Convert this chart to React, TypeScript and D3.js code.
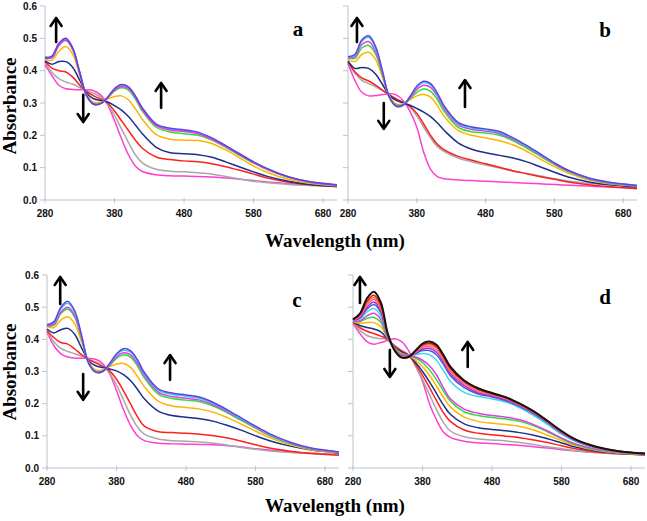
import React from 'react';
import * as d3 from 'd3';

const WAVELENGTHS = [280, 290, 300, 310, 320, 330, 340, 350, 360, 370, 380, 390, 400, 410, 420, 440, 460, 480, 500, 520, 540, 560, 580, 600, 630, 660, 700];
const X_TICKS = [280, 380, 480, 580, 680];
const Y_TICKS = [0, 0.1, 0.2, 0.3, 0.4, 0.5, 0.6];

// Panel a
const A_MAGENTA = [.418, .385, .355, .344, .342, .341, .341, .338, .325, .295, .245, .190, .140, .105, .088, .078, .075, .074, .073, .071, .068, .064, .060, .056, .051, .047, .044];
const A_GRAY = [.425, .395, .375, .365, .358, .348, .338, .330, .318, .297, .262, .220, .178, .140, .115, .095, .089, .087, .084, .080, .073, .065, .058, .053, .048, .045, .042];
const A_RED = [.428, .408, .400, .396, .380, .355, .335, .322, .312, .300, .275, .245, .215, .185, .160, .133, .125, .121, .118, .112, .103, .092, .080, .068, .056, .048, .042];
const A_NAVY = [.430, .420, .428, .428, .410, .370, .330, .313, .308, .303, .292, .278, .258, .232, .205, .163, .146, .143, .140, .132, .118, .102, .087, .073, .058, .048, .042];
const A_ORANGE = [.435, .432, .460, .475, .450, .385, .325, .302, .302, .312, .320, .322, .310, .282, .250, .202, .188, .185, .184, .175, .155, .130, .105, .085, .064, .052, .044];
const A_GREEN = [.443, .440, .478, .493, .464, .392, .322, .298, .299, .315, .337, .347, .340, .312, .275, .225, .210, .205, .200, .185, .163, .138, .114, .093, .070, .055, .046];
const A_CYAN = [.440, .443, .482, .498, .468, .394, .322, .296, .298, .317, .343, .355, .348, .320, .283, .233, .220, .215, .208, .190, .167, .142, .117, .096, .071, .056, .046];
const A_PINK = [.438, .440, .478, .495, .466, .393, .322, .297, .298, .316, .340, .351, .345, .318, .280, .230, .216, .212, .205, .188, .165, .140, .116, .095, .071, .056, .046];
const A_VIOLET = [.440, .445, .485, .500, .470, .395, .322, .296, .298, .318, .345, .357, .350, .322, .285, .235, .222, .217, .210, .192, .168, .143, .118, .097, .072, .057, .047];

// Panel b
const B_MAGENTA = [.423, .370, .333, .322, .323, .326, .329, .325, .308, .275, .225, .148, .095, .072, .066, .062, .060, .058, .056, .054, .052, .050, .048, .046, .043, .040, .037];
const B_GRAY = [.425, .392, .370, .360, .350, .338, .325, .313, .302, .287, .260, .225, .192, .165, .150, .130, .118, .108, .099, .090, .082, .074, .066, .059, .052, .047, .043];
const B_RED = [.427, .397, .378, .368, .355, .340, .325, .313, .302, .290, .268, .235, .200, .172, .155, .135, .123, .112, .101, .090, .081, .072, .064, .056, .047, .041, .035];
const B_NAVY = [.430, .407, .410, .407, .390, .358, .324, .308, .301, .293, .283, .272, .258, .238, .215, .177, .157, .146, .138, .130, .118, .102, .086, .071, .056, .047, .040];
const B_ORANGE = [.435, .428, .450, .457, .435, .380, .322, .297, .298, .310, .322, .326, .318, .292, .258, .215, .200, .192, .183, .170, .150, .126, .103, .083, .062, .050, .043];
const B_GREEN = [.440, .438, .470, .478, .452, .388, .320, .294, .295, .313, .333, .343, .336, .310, .273, .225, .211, .207, .200, .183, .160, .135, .110, .088, .065, .052, .044];
const B_PINK = [.440, .443, .480, .490, .460, .392, .319, .292, .294, .315, .342, .355, .348, .320, .281, .232, .218, .213, .205, .187, .164, .138, .112, .090, .066, .053, .044];
const B_CYAN = [.442, .447, .490, .503, .471, .397, .318, .290, .293, .318, .349, .363, .356, .327, .287, .237, .223, .217, .209, .190, .166, .140, .114, .091, .067, .054, .045];
const B_VIOLET = [.443, .450, .495, .508, .475, .400, .318, .290, .293, .320, .352, .367, .360, .330, .290, .240, .226, .220, .212, .192, .168, .142, .115, .092, .068, .055, .045];

// Panel c
const C_MAGENTA = [.422, .380, .355, .345, .342, .341, .341, .338, .325, .293, .240, .182, .133, .100, .085, .077, .075, .074, .073, .072, .069, .065, .060, .056, .050, .046, .043];
const C_GRAY = [.425, .392, .372, .362, .355, .347, .339, .330, .318, .295, .258, .212, .165, .128, .105, .090, .085, .083, .081, .077, .071, .064, .058, .053, .048, .045, .042];
const C_RED = [.427, .405, .390, .385, .370, .352, .337, .327, .316, .302, .276, .240, .200, .160, .130, .113, .110, .108, .105, .100, .093, .083, .072, .062, .052, .045, .040];
const C_NAVY = [.432, .420, .430, .434, .415, .372, .333, .318, .312, .308, .302, .290, .272, .245, .215, .177, .163, .158, .153, .145, .132, .117, .100, .085, .068, .056, .047];
const C_ORANGE = [.440, .437, .460, .470, .448, .390, .330, .305, .305, .315, .323, .325, .313, .285, .253, .208, .193, .188, .183, .173, .156, .136, .115, .095, .072, .057, .048];
const C_GREEN = [.442, .444, .480, .494, .468, .400, .327, .300, .302, .318, .341, .352, .345, .318, .280, .230, .216, .211, .206, .192, .171, .147, .124, .101, .076, .059, .049];
const C_PINK = [.442, .447, .485, .500, .473, .402, .326, .299, .301, .320, .346, .358, .352, .325, .287, .236, .222, .217, .211, .196, .174, .150, .126, .103, .077, .060, .049];
const C_CYAN = [.445, .452, .495, .512, .483, .407, .325, .298, .300, .323, .352, .366, .360, .333, .293, .242, .229, .223, .216, .200, .177, .152, .128, .105, .078, .061, .050];
const C_VIOLET = [.445, .455, .500, .518, .488, .410, .325, .298, .300, .325, .355, .371, .365, .337, .297, .246, .233, .227, .220, .203, .180, .155, .130, .107, .080, .062, .050];

// Panel d
const D_MAGENTA = [.448, .418, .393, .385, .390, .397, .402, .393, .365, .318, .270, .200, .150, .112, .095, .083, .078, .076, .073, .070, .066, .062, .057, .053, .048, .044, .041];
const D_GRAY = [.450, .428, .412, .405, .402, .399, .381, .366, .352, .316, .275, .228, .182, .142, .115, .097, .090, .087, .084, .079, .073, .066, .060, .054, .048, .044, .041];
const D_RED = [.453, .436, .425, .418, .410, .400, .378, .363, .351, .322, .288, .250, .210, .172, .145, .118, .108, .103, .099, .094, .087, .079, .069, .060, .050, .045, .041];
const D_NAVY = [.455, .443, .437, .432, .423, .400, .375, .360, .350, .328, .300, .268, .232, .196, .167, .137, .125, .120, .116, .110, .102, .091, .078, .065, .053, .046, .042];
const D_ORANGE = [.455, .450, .452, .452, .440, .402, .373, .356, .350, .335, .315, .288, .255, .220, .190, .158, .145, .139, .135, .129, .118, .102, .085, .070, .055, .047, .043];
const D_GREEN = [.456, .455, .465, .468, .453, .403, .371, .353, .350, .342, .328, .305, .275, .240, .208, .175, .163, .157, .152, .145, .131, .112, .091, .073, .057, .048, .043];
const D_PINK = [.457, .458, .473, .481, .462, .405, .370, .352, .350, .345, .335, .318, .290, .250, .215, .183, .170, .163, .158, .150, .135, .115, .093, .075, .058, .049, .044];
const D_CYAN = [.458, .463, .485, .496, .473, .407, .369, .349, .348, .352, .356, .352, .335, .303, .270, .235, .222, .215, .205, .187, .163, .135, .105, .082, .061, .050, .044];
const D_BLUE = [.459, .467, .494, .508, .483, .409, .368, .348, .348, .356, .365, .365, .352, .322, .287, .250, .230, .221, .209, .191, .168, .140, .109, .085, .063, .051, .044];
const D_PURPLE = [.459, .469, .500, .516, .489, .411, .367, .347, .347, .358, .370, .372, .360, .330, .294, .256, .234, .224, .212, .194, .171, .142, .111, .086, .064, .052, .044];
const D_ROSE = [.460, .472, .507, .524, .495, .413, .367, .346, .347, .360, .375, .378, .367, .337, .300, .262, .238, .227, .215, .196, .173, .144, .112, .087, .064, .052, .045];
const D_ORANGERED = [.460, .474, .512, .530, .500, .414, .366, .345, .346, .362, .379, .383, .373, .342, .305, .266, .242, .229, .217, .198, .174, .145, .113, .088, .065, .053, .045];
const D_RED2 = [.461, .477, .518, .537, .506, .416, .366, .344, .346, .364, .383, .388, .378, .347, .310, .269, .245, .231, .218, .199, .175, .146, .114, .088, .065, .053, .045];
const D_BLACK = [.462, .480, .527, .548, .515, .418, .365, .343, .345, .365, .387, .393, .383, .352, .315, .272, .248, .233, .220, .200, .176, .146, .115, .089, .066, .053, .045];

const COLORS_ABC = ['#ff3fcf', '#a8a8a8', '#ff1f1f', '#1c2e8c', '#ffb400', '#35dc35', '#38c8f0', '#e03ce6', '#6244dc'];
const COLORS_BC = ['#ff3fcf', '#a8a8a8', '#ff1f1f', '#1c2e8c', '#ffb400', '#35dc35', '#e03ce6', '#38c8f0', '#6244dc'];
const COLORS_D = ['#ff3fcf', '#a8a8a8', '#ff1f1f', '#1c2e8c', '#ffb400', '#35dc35', '#e03ce6', '#38d8f0', '#5a4fdc', '#9a35d0', '#ff5fb0', '#ff7a20', '#e81414', '#141414'];

// arrows: [wavelength, fromAbs, toAbs]
const A_ARROWS = [[296, .489, .563], [335, .325, .241], [447, .285, .362]];
const B_ARROWS = [[293, .489, .563], [332, .300, .220], [450, .288, .371]];
const C_ARROWS = [[299, .510, .594], [332, .292, .212], [457, .274, .351]];
const D_ARROWS = [[290, .513, .594], [333, .367, .283], [445, .314, .392]];

const PANELS = [
  { label: 'a', series: [A_MAGENTA, A_GRAY, A_RED, A_NAVY, A_ORANGE, A_GREEN, A_CYAN, A_PINK, A_VIOLET], colors: COLORS_ABC, arrows: A_ARROWS, x0: 45, x1: 337, yb: 200, yt: 6, yLabels: true, lx: 298, ly: 36 },
  { label: 'b', series: [B_MAGENTA, B_GRAY, B_RED, B_NAVY, B_ORANGE, B_GREEN, B_PINK, B_CYAN, B_VIOLET], colors: COLORS_BC, arrows: B_ARROWS, x0: 348, x1: 637, yb: 200, yt: 6, yLabels: false, lx: 605, ly: 37 },
  { label: 'c', series: [C_MAGENTA, C_GRAY, C_RED, C_NAVY, C_ORANGE, C_GREEN, C_PINK, C_CYAN, C_VIOLET], colors: COLORS_BC, arrows: C_ARROWS, x0: 47, x1: 339, yb: 468, yt: 275, yLabels: true, lx: 297, ly: 307 },
  { label: 'd', series: [D_MAGENTA, D_GRAY, D_RED, D_NAVY, D_ORANGE, D_GREEN, D_PINK, D_CYAN, D_BLUE, D_PURPLE, D_ROSE, D_ORANGERED, D_RED2, D_BLACK], colors: COLORS_D, arrows: D_ARROWS, x0: 353, x1: 645, yb: 468, yt: 275, yLabels: false, lx: 605, ly: 304 },
];

const AXIS = '#b9c4cc';
const TICK_FONT = '"Liberation Sans", Arial, sans-serif';
const SERIF = '"Liberation Serif", "Times New Roman", serif';

function Panel({ p }: { p: any }) {
  const x = d3.scaleLinear().domain([280, 700]).range([p.x0, p.x1]);
  const y = d3.scaleLinear().domain([0, 0.6]).range([p.yb, p.yt]);
  const line = d3.line<number>()
    .x((_, i) => x(WAVELENGTHS[i]))
    .y((v) => y(v))
    .curve(d3.curveCatmullRom.alpha(0.5));
  const n = p.series.length;
  return (
    <g>
      <line x1={p.x0} x2={p.x0} y1={p.yt} y2={p.yb} stroke={AXIS} strokeWidth={1} />
      <line x1={p.x0} x2={p.x1} y1={p.yb} y2={p.yb} stroke={AXIS} strokeWidth={1} />
      {Y_TICKS.map((t) => (
        <g key={'y' + t}>
          <line x1={p.x0 - 5} x2={p.x0} y1={y(t)} y2={y(t)} stroke={AXIS} />
          {p.yLabels && (
            <text x={p.x0 - 8} y={y(t)} dy="0.35em" textAnchor="end" fontFamily={TICK_FONT} fontWeight="bold" fontSize={10} fill="#111">
              {t.toFixed(1)}
            </text>
          )}
        </g>
      ))}
      {X_TICKS.map((t) => (
        <g key={'x' + t}>
          <line x1={x(t)} x2={x(t)} y1={p.yb - 2} y2={p.yb + 3} stroke={AXIS} />
          <text x={x(t)} y={p.yb + 17} textAnchor="middle" fontFamily={TICK_FONT} fontWeight="bold" fontSize={10} fill="#111">
            {t}
          </text>
        </g>
      ))}
      {p.series.map((s: number[], i: number) => (
        <path key={i} d={line(s) || ''} fill="none" stroke={p.colors[i]} strokeWidth={i === n - 1 && n > 9 ? 2 : 1.5} />
      ))}
      {p.arrows.map((a: number[], i: number) => {
        const ax = x(a[0]);
        const y1 = y(a[1]);
        const y2 = y(a[2]);
        const dir = y2 < y1 ? 1 : -1;
        return (
          <g key={'a' + i} stroke="#000" strokeWidth={2.6} fill="none" strokeLinecap="round" strokeLinejoin="round">
            <line x1={ax} x2={ax} y1={y1} y2={y2 + dir * 1} />
            <path d={`M${ax - 5.5},${y2 + dir * 8} L${ax},${y2} L${ax + 5.5},${y2 + dir * 8}`} />
          </g>
        );
      })}
      <text x={p.lx} y={p.ly} textAnchor="middle" fontFamily={SERIF} fontWeight="bold" fontSize={21} fill="#000">
        {p.label}
      </text>
    </g>
  );
}

export default function App() {
  return (
    <svg width={647} height={521} style={{ position: 'absolute', left: 0, top: 0, background: '#fff' }}>
      <rect width={647} height={521} fill="#fff" />
      {PANELS.map((p) => (
        <Panel key={p.label} p={p} />
      ))}
      <text x={335} y={247} textAnchor="middle" fontFamily={SERIF} fontWeight="bold" fontSize={19}>Wavelength (nm)</text>
      <text x={335} y={512} textAnchor="middle" fontFamily={SERIF} fontWeight="bold" fontSize={19}>Wavelength (nm)</text>
      <text transform="translate(16,106) rotate(-90)" textAnchor="middle" fontFamily={SERIF} fontWeight="bold" fontSize={19}>Absorbance</text>
      <text transform="translate(16,372) rotate(-90)" textAnchor="middle" fontFamily={SERIF} fontWeight="bold" fontSize={19}>Absorbance</text>
    </svg>
  );
}
